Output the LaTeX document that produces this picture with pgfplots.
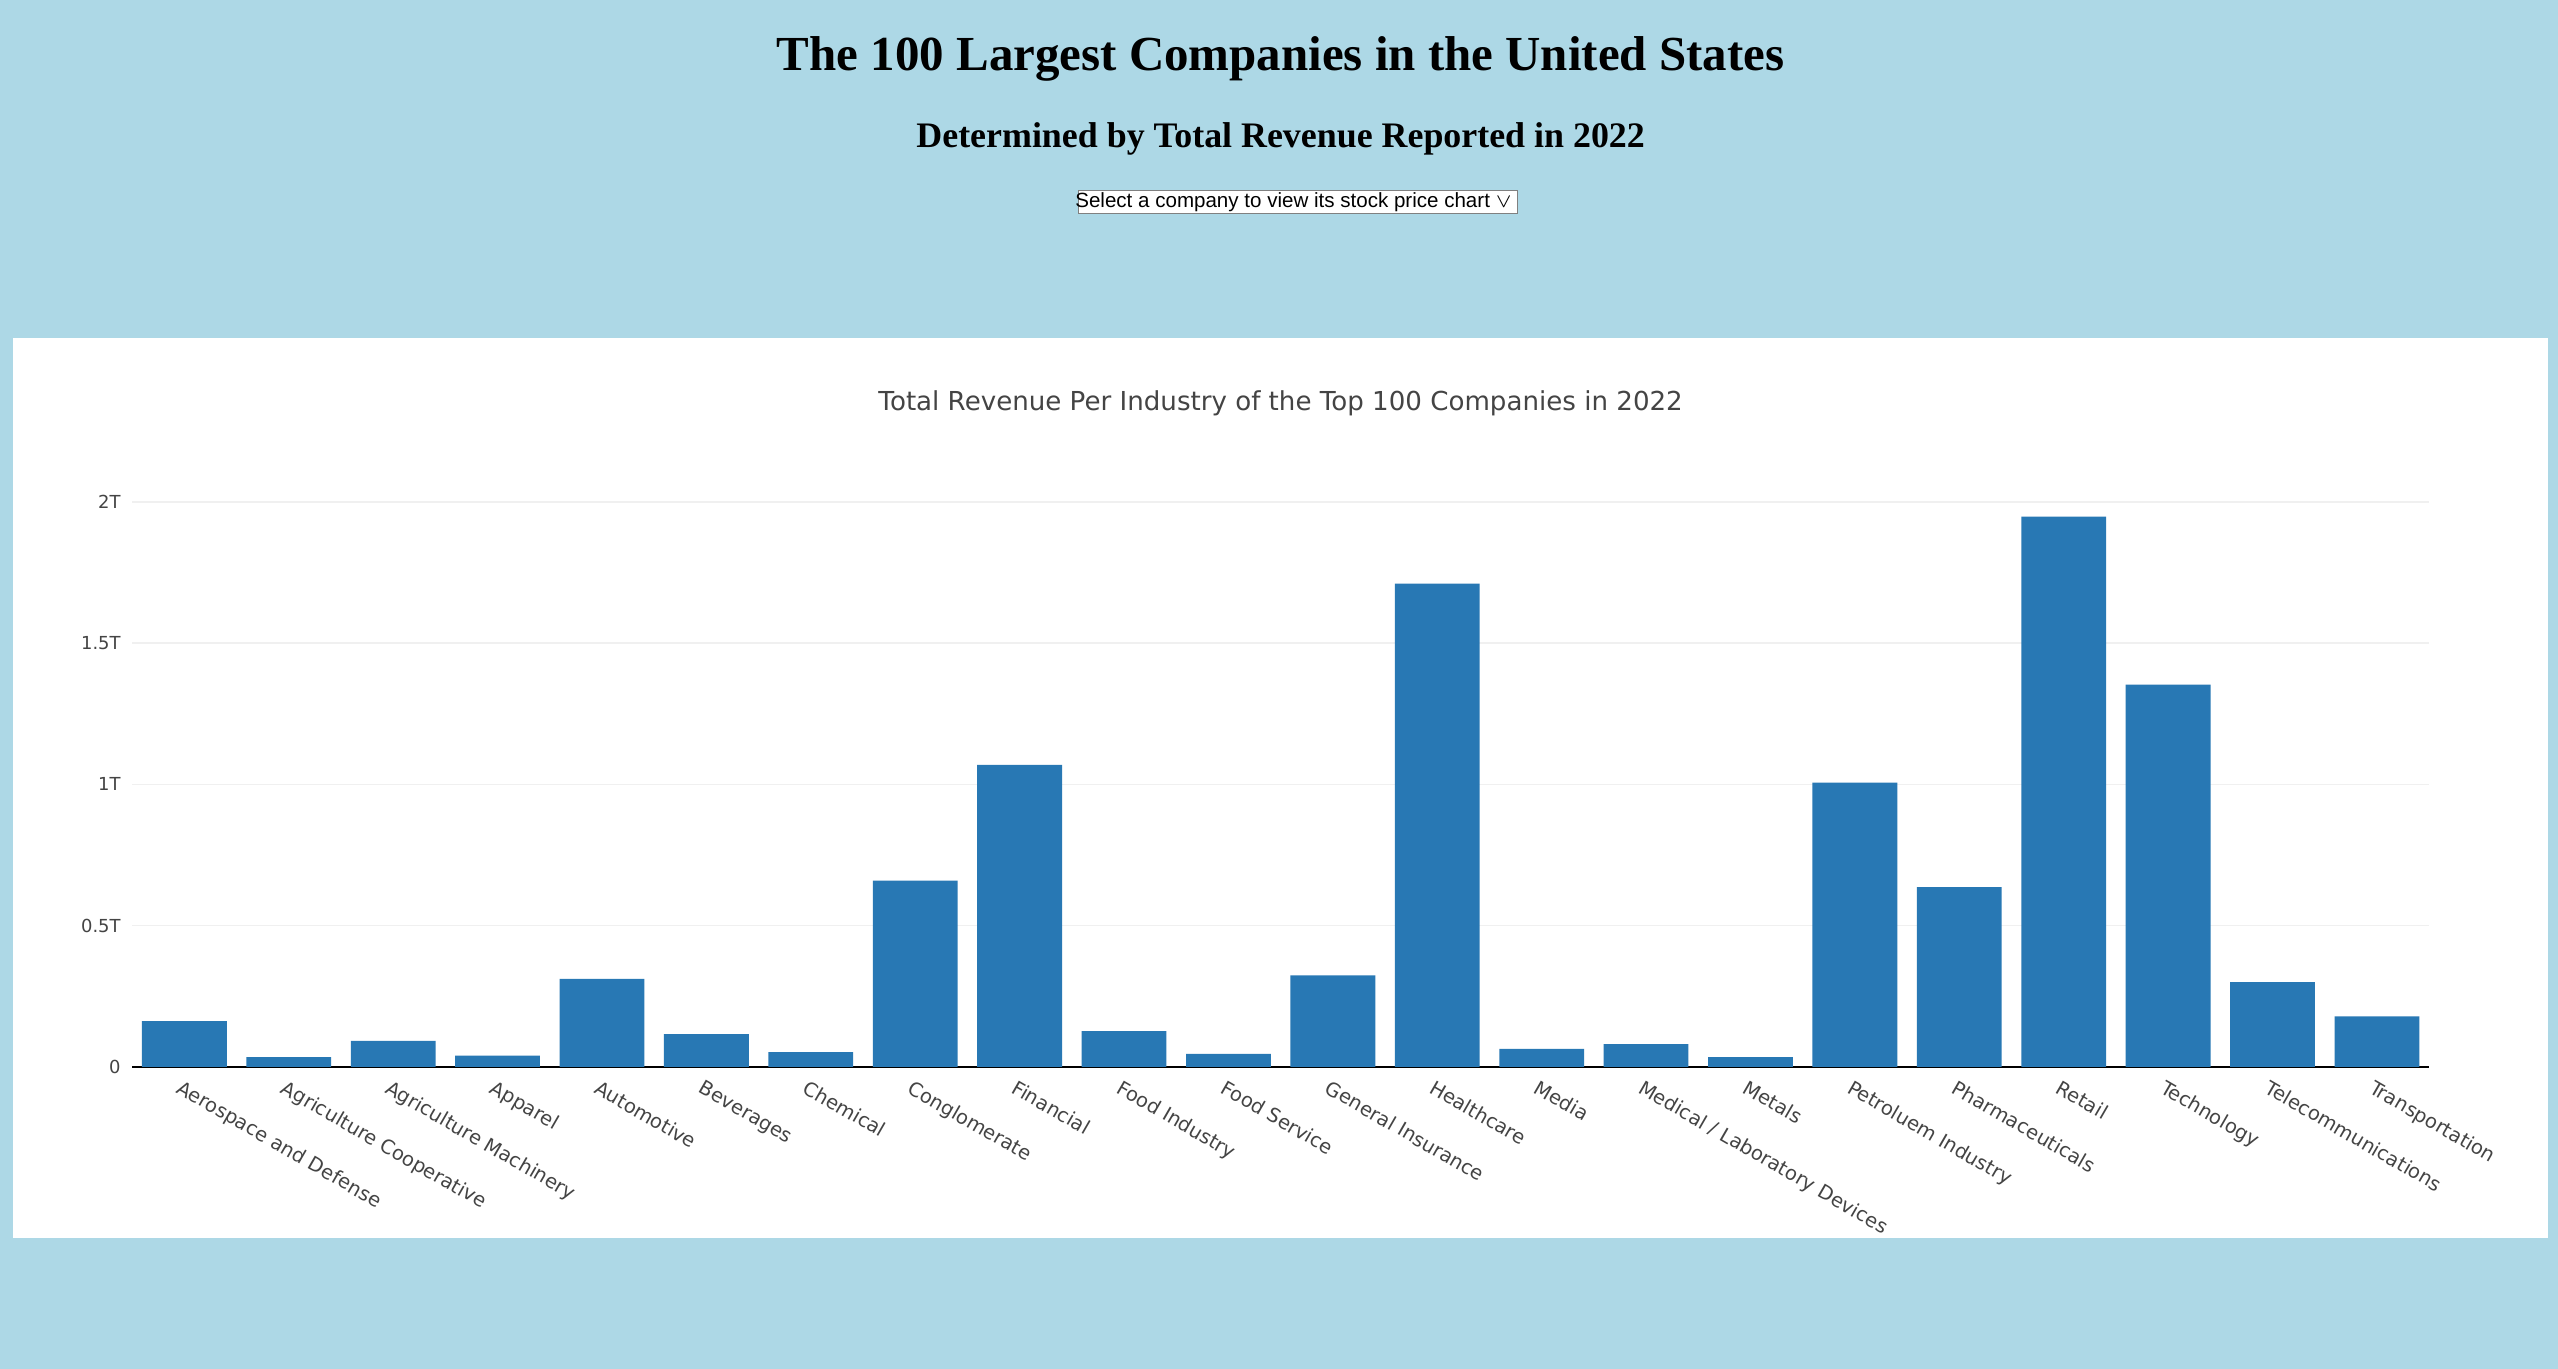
\documentclass[border=0pt]{standalone}
\usepackage{pgfplots}
\pgfplotsset{compat=1.18}
\usepackage{fontspec}
\setmainfont{Liberation Serif}
\newfontfamily\dv{DejaVu Sans}
\newfontfamily\ar{Liberation Sans}
\definecolor{bg}{HTML}{ADD8E6}
\definecolor{bar}{HTML}{2878B4}
\definecolor{tx}{HTML}{444444}
\begin{document}
\begin{tikzpicture}[x=0.5pt,y=0.5pt]
\fill[bg] (0,0) rectangle (1568,839);
\fill[white] (8,839-207) rectangle (1562,839-759);
\node[font=\bfseries\fontsize{15}{18}\selectfont] at (785,839-36) {The 100 Largest Companies in the United States};
\node[font=\bfseries\fontsize{11}{13}\selectfont] at (785,839-85) {Determined by Total Revenue Reported in 2022};
\draw[fill=white,draw=gray] (661,839-117) rectangle (930,839-131);
\node[font=\ar\fontsize{6.3}{7}\selectfont] at (793,839-124) {Select a company to view its stock price chart $\vee$};
\node[font=\dv\fontsize{8}{10}\selectfont,text=tx] at (785,839-247) {Total Revenue Per Industry of the Top 100 Companies in 2022};
\begin{axis}[at={(40.5pt,92.5pt)},anchor=south west,scale only axis,
 width=704pt,height=177.5pt,xmin=-0.5,xmax=21.5,ymin=0,ymax=2.05,
 axis lines*=left, y axis line style={draw=none}, x axis line style={black,-},
 ymajorgrids, grid style={color=gray!12},
 ytick={0,0.5,1,1.5,2}, yticklabels={0,0.5T,1T,1.5T,2T},
 yticklabel style={font=\dv\fontsize{5.5}{6}\selectfont,text=tx},
 xtick=data, major tick length=0pt,
 xticklabels={Aerospace and Defense,Agriculture Cooperative,Agriculture Machinery,Apparel,Automotive,Beverages,Chemical,Conglomerate,Financial,Food Industry,Food Service,General Insurance,Healthcare,Media,Medical / Laboratory Devices,Metals,Petroluem Industry,Pharmaceuticals,Retail,Technology,Telecommunications,Transportation},
 xticklabel style={font=\dv\fontsize{6}{7}\selectfont,text=tx,rotate=-30,anchor=north west,xshift=-2pt},
 ybar, bar width=26pt]
\addplot[fill=bar,draw=none] coordinates {(0,0.162)(1,0.035)(2,0.092)(3,0.04)(4,0.312)(5,0.116)(6,0.052)(7,0.659)(8,1.069)(9,0.127)(10,0.046)(11,0.324)(12,1.711)(13,0.064)(14,0.081)(15,0.035)(16,1.006)(17,0.636)(18,1.948)(19,1.353)(20,0.30)(21,0.179)};
\end{axis}
\end{tikzpicture}
\end{document}
